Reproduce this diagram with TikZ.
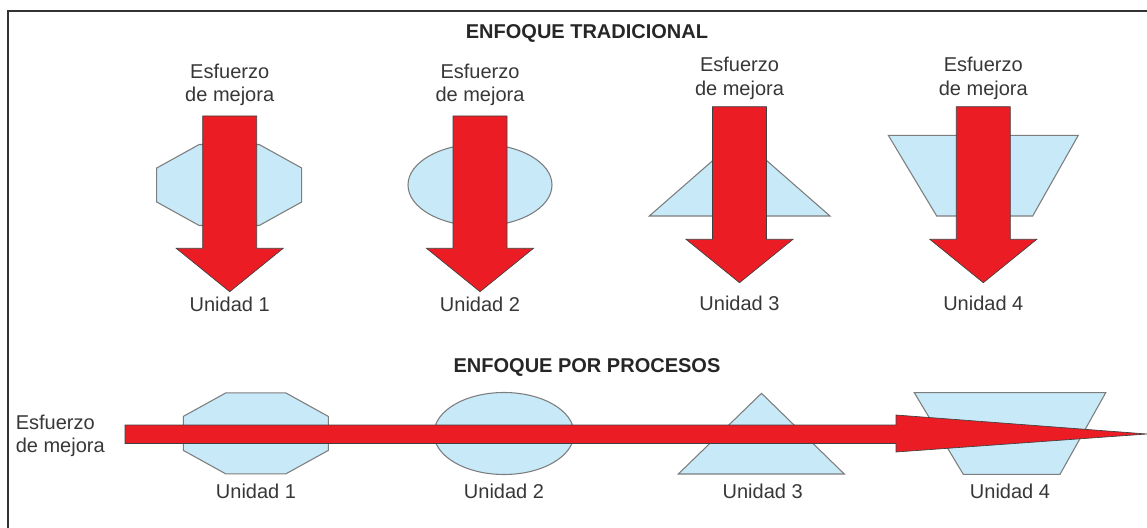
\documentclass[tikz,border=0pt]{standalone}
\usepackage{fontspec}
\setmainfont{Liberation Sans}

\definecolor{unitblue}{RGB}{199,233,248}
\definecolor{unitedge}{RGB}{125,125,125}
\definecolor{effortred}{RGB}{236,28,36}
\definecolor{labelgray}{RGB}{55,55,55}

% block arrow pointing down: x, top, shoulder, tip
\newcommand{\effortdown}[4]{%
  \draw[effort, shift={(#1,0)}] (-27,#2) -- (27,#2) -- (27,#3) -- (53.5,#3)
    -- (0,#4) -- (-53.5,#3) -- (-27,#3) -- cycle;}

\begin{document}
\begin{tikzpicture}[x=0.75pt, y=-0.75pt,
    unit/.style={fill=unitblue, draw=unitedge, line width=0.8pt},
    effort/.style={fill=effortred, draw=black!75, line width=0.5pt, line join=miter},
    unitlabel/.style={text=labelgray, font=\fontsize{15}{17.5}\selectfont, align=center, inner sep=0pt},
    heading/.style={text=black!85, font=\bfseries\fontsize{15}{18}\selectfont, inner sep=0pt}]

        \useasboundingbox (0,0) rectangle (1147,528);

        % Frame
        \draw[line width=1.6pt, black!80] (8.3,540) -- (8.3,11) -- (1160,11);

        % Enfoque tradicional
        \node[heading] (trad) at (587,33) {ENFOQUE TRADICIONAL};

        \draw[unit, shift={(229.2,185)}] (-30,-40.5) -- (30,-40.5) -- (72.5,-17) -- (72.5,17)
            -- (30,40.5) -- (-30,40.5) -- (-72.5,17) -- (-72.5,-17) -- cycle;
        \draw[unit] (480,185) ellipse [x radius=72, y radius=41];
        \draw[unit] (739.7,137) -- (830,216) -- (649.3,216) -- cycle;
        \draw[unit] (888.3,135.3) -- (1078.3,135.3) -- (1032.7,216) -- (936.7,216) -- cycle;

        \effortdown{229.7}{116}{248.3}{291.7}
        \effortdown{480}{116}{248.3}{291.7}
        \effortdown{739.5}{106.7}{239.3}{282.7}
        \effortdown{983.3}{106.7}{239.3}{282.7}

        \node[unitlabel] (e1) at (229.7,85) {Esfuerzo\\de mejora};
        \node[unitlabel] (e2) at (480,85) {Esfuerzo\\de mejora};
        \node[unitlabel] (e3) at (739.5,78.4) {Esfuerzo\\de mejora};
        \node[unitlabel] (e4) at (983.3,78.4) {Esfuerzo\\de mejora};

        \node[unitlabel] (u1) at (229.7,304) {Unidad 1};
        \node[unitlabel] (u2) at (480,304) {Unidad 2};
        \node[unitlabel] (u3) at (739.5,303.5) {Unidad 3};
        \node[unitlabel] (u4) at (983.3,303.5) {Unidad 4};

        % Enfoque por procesos
        \node[heading] (proc) at (587,367.7) {ENFOQUE POR PROCESOS};

        \draw[unit, shift={(255.8,433.4)}] (-30,-40.5) -- (30,-40.5) -- (72.5,-17) -- (72.5,17)
            -- (30,40.5) -- (-30,40.5) -- (-72.5,17) -- (-72.5,-17) -- cycle;
        \draw[unit] (504,433.5) ellipse [x radius=70, y radius=41];
        \draw[unit] (761.5,393.3) -- (844.3,474) -- (678.3,474) -- cycle;
        \draw[unit] (914.3,392.7) -- (1105.7,392.7) -- (1060,474.3) -- (963.3,474.3) -- cycle;

        \draw[effort] (125,425) -- (896,425) -- (896,415) -- (1147,434)
            -- (896,452) -- (896,443.5) -- (125,443.5) -- cycle;

        \node[unitlabel, anchor=west, align=left] (e5) at (15.5,436) {Esfuerzo\\de mejora};

        \node[unitlabel] (p1) at (256,491.7) {Unidad 1};
        \node[unitlabel] (p2) at (504,491.7) {Unidad 2};
        \node[unitlabel] (p3) at (762.7,491.7) {Unidad 3};
        \node[unitlabel] (p4) at (1010,491.7) {Unidad 4};

    \end{tikzpicture}
\end{document}
